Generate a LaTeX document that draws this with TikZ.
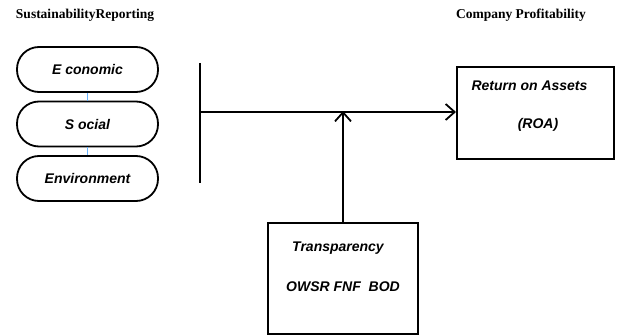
\documentclass[tikz,border=0pt]{standalone}
\usepackage{fontspec}
\setmainfont{Liberation Serif}
\newfontfamily\arialfont{Liberation Sans}
\usetikzlibrary{arrows.meta}
\tikzset{
  pill/.style={draw, line width=1.8pt, rounded corners=22pt, minimum width=141pt, minimum height=45pt, inner sep=0pt},
  plainbox/.style={draw, line width=2pt, inner sep=0pt},
  lbl/.style={font=\arialfont\bfseries\itshape\fontsize{14}{16}\selectfont},
  heading/.style={font=\bfseries\fontsize{13.5}{15}\selectfont},
  link/.style={line width=1.8pt, -{Straight Barb[length=9pt,width=16pt]}},
  thinlink/.style={draw=blue!50!cyan!60, line width=0.4pt}
}
\begin{document}
\begin{tikzpicture}[x=1pt,y=-1pt]
\useasboundingbox (0,0) rectangle (617,334);
% headings
\node[heading] (h1) at (85,15) {SustainabilityReporting};
\node[heading] (h2) at (521,15) {Company Profitability};
% sustainability dimensions
\node[pill] (eco) at (87.5,69.5) {};
\node[lbl] at (eco) {E conomic};
\node[pill] (soc) at (87.5,124) {};
\node[lbl] at (soc) {S ocial};
\node[pill] (env) at (87.5,178.5) {};
\node[lbl] at (env) {Environment};
\draw[thinlink] (eco.south) -- (soc.north);
\draw[thinlink] (soc.south) -- (env.north);
% joining bar
\coordinate (bartop) at (200,63);
\coordinate (barbot) at (200,183);
\coordinate (barmid) at (200,112);
\draw[line width=1.8pt] (bartop) -- (barbot);
% return on assets box
\node[plainbox, minimum width=157pt, minimum height=92pt] (roa) at (535.5,113) {};
\node[lbl, anchor=west] (roat) at (468,86) {Return on Assets};
\node[lbl] (roab) at (538,125) {(ROA)};
\draw[link] (barmid) -- (barmid -| roa.west);
% transparency box
\node[plainbox, minimum width=150pt, minimum height=111pt] (tr) at (343,278) {};
\node[lbl] (trt) at (338,248) {Transparency};
\node[lbl] (trb) at (343,287) {OWSR FNF\ \ BOD};
\coordinate (meet) at (tr.north |- barmid);
\draw[link] (tr.north) -- ([yshift=1pt]meet);
\end{tikzpicture}
\end{document}
